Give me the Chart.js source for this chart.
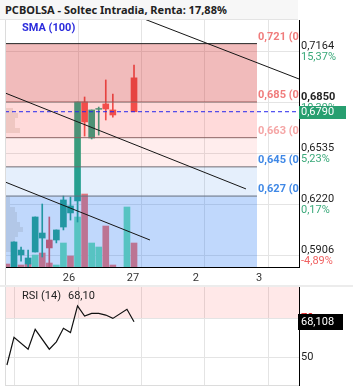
<!DOCTYPE html>
<html>
<head>
<meta charset="utf-8">
<script src="https://cdn.jsdelivr.net/npm/chart.js@4.4.0/dist/chart.umd.min.js"></script>
<style>
  body { margin: 0; background: #fff; width: 353px; height: 390px; overflow: hidden; position: relative; }
  #titulo { position: absolute; left: 0; top: 0; width: 298px; height: 20px; box-sizing: border-box;
            background: #f7f7f7; border-bottom: 1px solid #e4e4e4; padding: 1px 0 0 5px;
            font: bold 11px "Noto Sans", sans-serif; line-height: 18px; color: #222; }
  #principal { position: absolute; left: 0; top: 20px; }
  #separador { position: absolute; left: 0; top: 285px; width: 353px; height: 2px; background: #ececec; }
  #rsi { position: absolute; left: 0; top: 285px; }
</style>
</head>
<body>
<div id="titulo">PCBOLSA - Soltec Intradia, Renta: 17,88%</div>
<canvas id="principal" width="353" height="265"></canvas>
<div id="separador"></div>
<canvas id="rsi" width="353" height="105"></canvas>
<script>
// velas (hueco = posicion en el eje)
const huecos   = [0, 1, 2, 3, 4, 5, 6, 7, 8, 9, 10, 11, 12, 13, 14, 17];
const apertura = [0.5770, 0.5907, 0.5851, 0.5925, 0.6011, 0.5999, 0.5999, 0.6079, 0.6166, 0.6240, 0.6850, 0.6628, 0.6805, 0.6838, 0.6801, 0.6999];
const maximo   = [0.5987, 0.5956, 0.5937, 0.6141, 0.6221, 0.6141, 0.6061, 0.6270, 0.6264, 0.6850, 0.6881, 0.6801, 0.6819, 0.6986, 0.6899, 0.7078];
const minimo   = [0.5760, 0.5869, 0.5830, 0.5925, 0.5894, 0.5830, 0.5981, 0.6061, 0.6122, 0.6110, 0.6640, 0.6622, 0.6646, 0.6739, 0.6757, 0.6790];
const cierre   = [0.5987, 0.5937, 0.5888, 0.6141, 0.6042, 0.5950, 0.6061, 0.6246, 0.6209, 0.6850, 0.6727, 0.6801, 0.6810, 0.6807, 0.6770, 0.6790];

// volumen
const volHuecos = [-1, 1, 2, 3, 4, 5, 6, 7, 8, 9, 10, 11, 12, 13, 14, 16, 17];
const volumen   = [3, 2, 3, 12, 14, 4, 2, 24, 11, 50, 73, 24, 20, 41, 2, 60, 24];
const volSube   = [0, 0, 0, 1, 0, 0, 1, 1, 0, 1, 0, 1, 1, 0, 0, 1, 0];

// perfil de volumen por precio (a la izquierda)
const perfilPrecio = [0.6798, 0.6767, 0.6736, 0.6705, 0.6677, 0.6249, 0.6218, 0.6187, 0.6156, 0.6125, 0.6095, 0.6064, 0.6033, 0.6002, 0.5971, 0.5940];
const perfilAncho  = [1.13, 1.84, 1.42, 1.42, 2.12, 0.71, 0.71, 1.42, 1.70, 1.70, 2.12, 2.55, 1.84, 1.42, 1.13, 0.85];

// RSI
const rsiHuecos = [-1, 0, 2, 3, 5, 6, 7, 8, 9, 10, 11, 12, 13, 14, 16, 17];
const rsiValor  = [45.9, 60.1, 54.0, 64.2, 54.0, 57.8, 64.7, 62.5, 76.2, 71.0, 72.4, 72.4, 71.5, 69.8, 74.5, 68.1];

// niveles fibonacci
const niveles    = [0.721, 0.685, 0.663, 0.645, 0.627];
const nivelesFib = ['0', '0,236', '0,382', '0,5', '0,618'];

// lineas de tendencia [x1, y1, x2, y2]
const tendencias = [
  [17.85, 0.7372, 40.37, 0.6992],
  [-1.275, 0.6906, 32.86, 0.6314],
  [-1.275, 0.6357, 19.26, 0.5999]
];

// ejes
const ticksPrecio = [0.7164, 0.6850, 0.6535, 0.6220, 0.5906];
const ticksRenta  = ['15,37%', '10,39%', '5,23%', '0,17%', '-4,89%'];
const dias        = ['26', '27', '2', '3'];
const diasPos     = [9.07, 18.13, 27.05, 35.98];
const ultimo = 0.6790;
const rsiUltimo = 68.108;

const X_MIN = -1.275, X_MAX = 40.37, FIN_ZONA = 34.42;
const coma = v => String(v).replace('.', ',');

const SUBE = 'rgb(38,166,132)', BAJA = '#ef5350';
const colVela = apertura.map((a, k) => cierre[k] >= a ? SUBE : BAJA);

const zonasColor = ['rgba(210,30,30,0.3)', 'rgba(255,50,50,0.18)', 'rgba(255,60,60,0.09)', 'rgba(40,120,230,0.12)', 'rgba(22,111,244,0.27)'];
const zonasBorde = ['#222', '#7a6c6c', '#7a6c6c', '#6a6f78', '#6a6f78'];
const etiqColor  = ['#f07c7c', '#f07c7c', '#f5a5a5', '#3f88e6', '#3f88e6'];

const FUENTE = 'Roboto';

const sinPadding = s => { s.paddingTop = 0; s.paddingBottom = 0; s.paddingLeft = 0; s.paddingRight = 0; };

const datos = [];
datos.push({
  type: 'bar', yAxisID: 'vol', order: 5, grouped: false, barThickness: 6,
  data: volHuecos.map((h, k) => ({ x: h, y: volumen[k] })),
  backgroundColor: volSube.map(s => s ? 'rgb(112,226,176)' : 'rgb(250,118,112)')
});
datos.push({
  type: 'bar', order: 4, grouped: false, barThickness: 1,
  data: huecos.map((h, k) => ({ x: h, y: [minimo[k], maximo[k]] })),
  backgroundColor: colVela
});
datos.push({
  type: 'bar', order: 3, grouped: false, barThickness: 6,
  data: huecos.map((h, k) => ({ x: h, y: [apertura[k], cierre[k]] })),
  backgroundColor: colVela
});
niveles.forEach((n, k) => {
  datos.push({
    type: 'line', order: 2, pointRadius: 0, borderWidth: 1,
    borderColor: zonasBorde[k], backgroundColor: zonasColor[k],
    fill: k < niveles.length - 1 ? '+1' : 'start',
    data: [{ x: X_MIN - 1, y: n }, { x: FIN_ZONA, y: n }]
  });
});
tendencias.forEach(t => {
  datos.push({
    type: 'line', order: 1, pointRadius: 0, borderWidth: 1, borderColor: '#151515', fill: false,
    data: [{ x: t[0], y: t[1] }, { x: t[2], y: t[3] }]
  });
});
datos.push({
  type: 'line', order: 1, pointRadius: 0, borderWidth: 1, borderColor: '#2626ee', borderDash: [4, 3], fill: false,
  data: [{ x: X_MIN, y: ultimo }, { x: X_MAX, y: ultimo }]
});

// perfil de volumen, bajo las zonas
const perfil = {
  id: 'perfil',
  beforeDatasetsDraw(chart) {
    const { ctx, chartArea: a, scales: { x, y } } = chart;
    ctx.save();
    ctx.fillStyle = 'rgb(236,232,226)';
    perfilPrecio.forEach((p, k) => {
      const py = y.getPixelForValue(p);
      ctx.fillRect(a.left + 1, Math.round(py - 2.5), x.getPixelForValue(X_MIN + perfilAncho[k]) - a.left - 1, 5);
    });
    ctx.restore();
  }
};

const textosPrincipal = {
  id: 'textosPrincipal',
  afterDraw(chart) {
    const { ctx, chartArea: a, scales: { x, y } } = chart;
    ctx.save();
    ctx.strokeStyle = '#dcdcdc';
    ctx.lineWidth = 1;
    ctx.beginPath(); ctx.moveTo(a.left + 0.5, a.top); ctx.lineTo(a.left + 0.5, a.bottom + 18); ctx.stroke();

    // etiquetas de los niveles
    ctx.save();
    ctx.beginPath(); ctx.rect(a.left, a.top, a.right - a.left, a.bottom - a.top); ctx.clip();
    ctx.font = 'bold 11px ' + FUENTE;
    ctx.textAlign = 'left';
    ctx.textBaseline = 'bottom';
    niveles.forEach((n, k) => {
      ctx.fillStyle = etiqColor[k];
      ctx.fillText(coma(n) + ' (' + nivelesFib[k] + ')', x.getPixelForValue(FIN_ZONA) + 1, y.getPixelForValue(n) - 1);
    });
    ctx.restore();

    ctx.font = 'bold 11px ' + FUENTE;
    ctx.fillStyle = '#2b2bdc';
    ctx.textBaseline = 'middle';
    ctx.fillText('SMA (100)', 22, a.top + 8);

    // rentabilidad bajo cada precio
    ctx.font = '11px ' + FUENTE;
    ticksPrecio.forEach((t, k) => {
      ctx.fillStyle = ticksRenta[k].startsWith('-') ? '#f06262' : '#3aa97a';
      ctx.fillText(ticksRenta[k], a.right + 2, y.getPixelForValue(t) + 6);
    });

    // precio actual
    const py = Math.round(y.getPixelForValue(ultimo));
    ctx.fillStyle = '#279f70';
    ctx.fillRect(a.right, py - 6, 47, 13);
    ctx.fillStyle = '#fff';
    ctx.fillText(coma(ultimo.toFixed(4)), a.right + 2, py + 0.5);
    ctx.restore();
  }
};

new Chart(document.getElementById('principal'), {
  type: 'line',
  data: { datasets: datos },
  options: {
    responsive: false,
    animation: false,
    events: [],
    layout: { padding: { left: 5, top: 0, right: 0, bottom: 0 } },
    plugins: { legend: { display: false }, tooltip: { enabled: false } },
    scales: {
      x: {
        type: 'linear', min: X_MIN, max: X_MAX, offset: false,
        grid: { color: '#e4e4e4', drawTicks: false, offset: false },
        border: { color: '#000', width: 1 },
        afterBuildTicks: s => { s.ticks = diasPos.map(v => ({ value: v })); },
        ticks: {
          autoSkip: false, maxRotation: 0, padding: 5, labelOffset: -9,
          color: '#333', font: { family: FUENTE, size: 11 },
          callback: (v, i) => dias[i]
        },
        afterFit: s => { s.height = 18; sinPadding(s); }
      },
      y: {
        type: 'linear', position: 'right', min: 0.58325, max: 0.73557, beginAtZero: false,
        grid: { color: '#e4e4e4', drawTicks: false },
        border: { color: '#000', width: 1 },
        afterBuildTicks: s => { s.ticks = ticksPrecio.map(v => ({ value: v })); },
        ticks: {
          padding: 2, labelOffset: -5, color: '#222',
          font: c => ({ family: FUENTE, size: 11, weight: c.tick && c.tick.value === 0.685 ? 'bold' : 'normal' }),
          callback: v => coma(v.toFixed(4))
        },
        afterFit: s => { s.width = 54; sinPadding(s); }
      },
      vol: { display: false, min: 0, max: 247 }
    }
  },
  plugins: [perfil, textosPrincipal]
});

// panel RSI
const textosRsi = {
  id: 'textosRsi',
  afterDraw(chart) {
    const { ctx, chartArea: a, scales: { y } } = chart;
    ctx.save();
    ctx.strokeStyle = '#dcdcdc';
    ctx.lineWidth = 1;
    ctx.beginPath(); ctx.moveTo(a.left + 0.5, a.top); ctx.lineTo(a.left + 0.5, a.bottom); ctx.stroke();
    ctx.font = '11px ' + FUENTE;
    ctx.textBaseline = 'middle';
    ctx.fillStyle = '#222';
    ctx.fillText('RSI (14)', 22, a.top + 9);
    ctx.fillText(coma(rsiValor[rsiValor.length - 1].toFixed(2)), 68, a.top + 9);
    const py = Math.round(y.getPixelForValue(rsiUltimo));
    ctx.fillStyle = '#000';
    ctx.fillRect(a.right - 1, py - 8, 45, 16);
    ctx.fillStyle = '#fff';
    ctx.fillText(coma(rsiUltimo.toFixed(3)), a.right + 2, py + 0.5);
    ctx.restore();
  }
};

new Chart(document.getElementById('rsi'), {
  type: 'line',
  data: {
    datasets: [
      {
        order: 2, pointRadius: 0, borderWidth: 0, backgroundColor: 'rgba(255,0,0,0.09)', fill: 'end',
        data: [{ x: X_MIN - 1, y: 70 }, { x: X_MAX + 1, y: 70 }]
      },
      {
        order: 1, pointRadius: 0, borderWidth: 1.2, borderColor: '#111', fill: false, tension: 0,
        data: rsiHuecos.map((h, k) => ({ x: h, y: rsiValor[k] }))
      }
    ]
  },
  options: {
    responsive: false,
    animation: false,
    events: [],
    layout: { padding: { left: 5, top: 2, right: 0, bottom: 5 } },
    plugins: { legend: { display: false }, tooltip: { enabled: false } },
    scales: {
      x: {
        type: 'linear', min: X_MIN, max: X_MAX,
        grid: { color: '#e4e4e4', drawTicks: false },
        border: { color: '#dcdcdc', width: 1 },
        afterBuildTicks: s => { s.ticks = [0].concat(diasPos).map(v => ({ value: v })); },
        ticks: { display: false },
        afterFit: s => { s.height = 0; sinPadding(s); }
      },
      y: {
        type: 'linear', position: 'right', min: 35.64, max: 85.9,
        grid: { color: '#e4e4e4', drawTicks: false },
        border: { color: '#000', width: 1 },
        afterBuildTicks: s => { s.ticks = [50, 70].map(v => ({ value: v })); },
        ticks: {
          padding: 2,
          color: c => c.tick && c.tick.value === 70 ? '#e00000' : '#222',
          font: { family: FUENTE, size: 11 },
          callback: v => String(v)
        },
        afterFit: s => { s.width = 54; sinPadding(s); }
      }
    }
  },
  plugins: [textosRsi]
});
</script>
</body>
</html>
